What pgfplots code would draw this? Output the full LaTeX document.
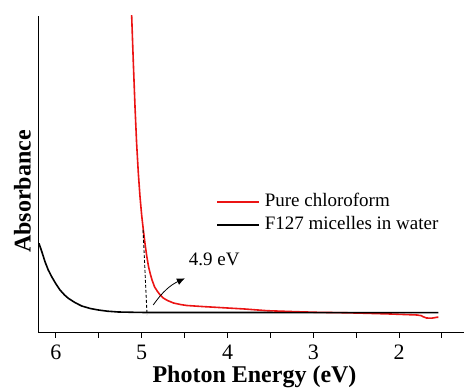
\documentclass[border=0pt]{standalone}
\usepackage{pgfplots}
\pgfplotsset{compat=1.18}
\usepackage{fontspec}
\setmainfont{Liberation Serif}
\usetikzlibrary{arrows.meta}
\definecolor{myred}{RGB}{235,20,20}
\begin{document}
\begin{tikzpicture}
\begin{axis}[
  at={(39pt,55pt)}, anchor=south west,
  scale only axis, width=431pt, height=317pt,
  x dir=reverse, xmin=1.173, xmax=6.198, ymin=0, ymax=317,
  enlargelimits=false,
  axis x line=bottom, axis y line=left,
  axis line style={-, line width=1pt},
  xtick={2,3,4,5,6}, xticklabels={2,3,4,5,6},
  minor xtick={1.5,2.5,3.5,4.5,5.5}, ytick=\empty,
  tick align=outside, major tick length=5pt, minor tick length=5pt,
  every tick/.style={line width=1pt, black},
  /pgf/number format/assume math mode=true,
  xticklabel style={font=\rmfamily\fontsize{22}{24}\selectfont, anchor=base, yshift=-22pt, inner sep=0pt},
  xlabel={\textbf{Photon Energy (eV)}},
  xlabel style={font=\fontsize{24}{26}\selectfont, at={(axis description cs:0.5,-0.1577)}, anchor=base, inner sep=0pt},
  ylabel={\textbf{Absorbance}},
  ylabel style={font=\fontsize{24}{26}\selectfont, at={(axis description cs:-0.0193,0.446)}, anchor=base, inner sep=0pt},
  legend style={draw=none, fill=none, at={(axis description cs:0.4107,0.44)}, anchor=north west,
    font=\fontsize{19}{22}\selectfont, inner sep=0pt, row sep=5.7pt, column sep=5pt,
    nodes={inner sep=0pt, text height=13pt, text depth=4pt}},
  legend cell align=left,
  legend image code/.code={\draw[#1] (0pt,0pt) -- (42pt,0pt);},
]
\addplot[myred, line width=1.6pt] coordinates {
(5.133,360) (5.117,316) (5.098,270) (5.078,225) (5.06,190) (5.04,160) (5.02,136) (5.00,117)
(4.98,102) (4.96,88) (4.94,76) (4.92,66) (4.90,59) (4.88,53) (4.85,46) (4.82,42) (4.79,38.5)
(4.75,35) (4.70,32.5) (4.63,30) (4.55,28.5) (4.475,27.5) (4.3,26.5) (4.0,25) (3.8,24)
(3.54,22.3) (3.2,21.3) (2.96,20.7) (2.6,20.2) (2.38,19.7) (2.1,19) (1.79,18) (1.74,17.3)
(1.72,16.3) (1.68,15) (1.62,14.8) (1.56,15.7) (1.543,15.7)
};
\addlegendentry{Pure chloroform}
\addplot[black, line width=1.6pt] coordinates {
(6.198,89.7) (6.16,80) (6.128,71.3) (6.09,63) (6.05,56.3) (6.0,49) (5.953,43) (5.9,38)
(5.856,34.7) (5.78,30.5) (5.70,27) (5.6,24.5) (5.506,23) (5.4,21.8) (5.273,21) (5.1,20.7)
(4.961,20.5) (4.0,20.5) (3.0,20.4) (2.0,20.3) (1.543,20.3)
};
\addlegendentry{F127 micelles in water}
\addplot[black, line width=0.9pt, dash pattern=on 3pt off 2pt, forget plot] coordinates {(4.985,103) (4.938,18)};
\draw[black, line width=0.8pt, -{Latex[length=8pt,width=7pt]}] (axis cs:4.866,28) to[out=55,in=205] (axis cs:4.497,54.7);
\node[font=\fontsize{19}{22}\selectfont, inner sep=0pt] at (axis cs:4.154,73.5) {4.9 eV};
\end{axis}
\pgfresetboundingbox
\path[use as bounding box] (0pt,0pt) rectangle (464pt,388pt);
\end{tikzpicture}
\end{document}
